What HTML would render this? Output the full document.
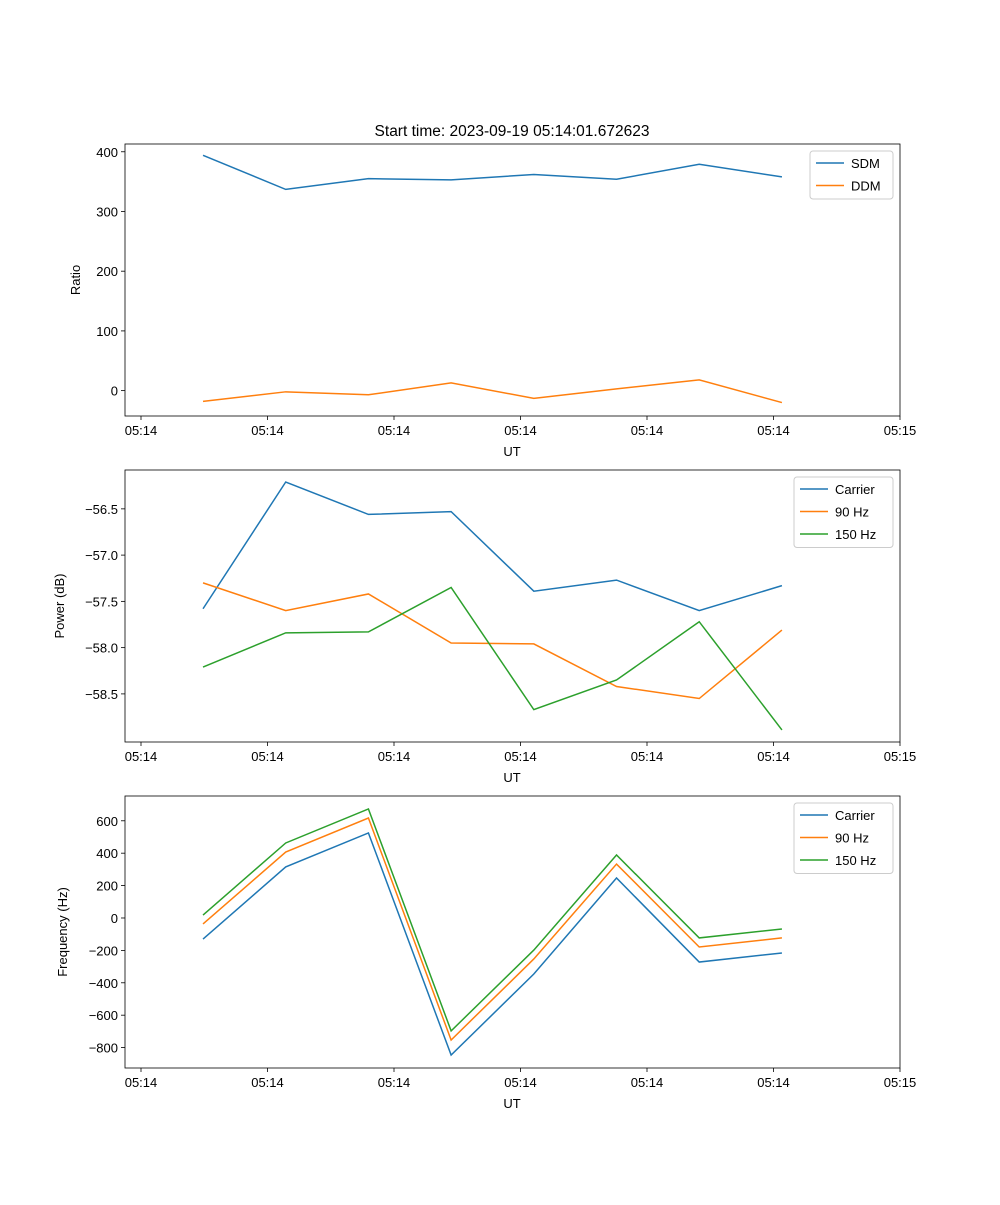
<!DOCTYPE html>
<html><head><meta charset="utf-8"><style>
body{margin:0;background:#fff}
svg text{font-family:"Liberation Sans","DejaVu Sans",sans-serif;font-size:13px;fill:#000}
</style></head><body>
<svg id="fig" width="1000" height="1200" xmlns="http://www.w3.org/2000/svg">
<rect width="1000" height="1200" fill="#fff"/>
<text x="512" y="136" text-anchor="middle" style="font-size:15.5px">Start time: 2023-09-19 05:14:01.672623</text>
</svg>
<script>
const xTickLabels=["05:14","05:14","05:14","05:14","05:14","05:14","05:15"];
const sdm=[394,337,355,353,362,354,379,358];
const ddm=[-18,-2,-7,13,-13,3,18,-20];
const pCarrier=[-57.58,-56.21,-56.56,-56.53,-57.39,-57.27,-57.6,-57.33];
const p90=[-57.3,-57.6,-57.42,-57.95,-57.96,-58.42,-58.55,-57.81];
const p150=[-58.21,-57.84,-57.83,-57.35,-58.67,-58.35,-57.72,-58.89];
const fCarrier=[-130,315,525,-846,-346,247,-272,-216];
const f90=[-37,407,617,-753,-253,333,-179,-123];
const f150=[18,463,673,-697,-198,389,-123,-68];
const ticks1=[0,100,200,300,400];
const ticks2=[-58.5,-58.0,-57.5,-57.0,-56.5];
const ticks3=[-800,-600,-400,-200,0,200,400,600];
const NS="http://www.w3.org/2000/svg";
const svg=document.getElementById('fig');
const L=125,R=900;
function xs(i){return 141+(i+0.75)*82.7;}
function el(t,a,p){const e=document.createElementNS(NS,t);for(const k in a)e.setAttribute(k,a[k]);(p||svg).appendChild(e);return e;}
function panel(name,top,ymin,ymax,ticks,fmt,ylabel,series,legend){
  const bot=top+272;
  const ys=v=>bot-(v-ymin)/(ymax-ymin)*272;
  const g=el('g',{});
  
  
  series.forEach(s=>{
    const pl=el('polyline',{points:s.d.map((v,i)=>xs(i)+','+ys(v)).join(' '),fill:'none',stroke:s.c,'stroke-width':1.5},g);
    
    
  });
  const fr=el('rect',{x:L,y:top,width:R-L,height:272,fill:'none',stroke:'#000','stroke-width':0.8},g);
  
  
  xTickLabels.forEach((t,k)=>{
    const x=141+k*126.5;
    el('line',{x1:x,x2:x,y1:bot,y2:bot+4,stroke:'#000','stroke-width':0.8},g);
    const tx=el('text',{x:x,y:bot+19,'text-anchor':'middle'},g);tx.textContent=t;
    
    
  });
  ticks.forEach(v=>{
    const y=ys(v);
    el('line',{x1:L-4,x2:L,y1:y,y2:y,stroke:'#000','stroke-width':0.8},g);
    const tx=el('text',{x:L-7,y:y+5,'text-anchor':'end'},g);tx.textContent=fmt(v);
    
    
  });
  const xl=el('text',{x:512,y:bot+40,'text-anchor':'middle'},g);xl.textContent='UT';
  
  
  const yl=el('text',{x:0,y:0,'text-anchor':'middle',transform:`translate(${legend.yx},${top+136}) rotate(-90)`},g);yl.textContent=ylabel;
  
  
  const lg=el('g',{},g);
  
  
  el('rect',{x:legend.x,y:top+7,width:R-7-legend.x,height:series.length*22.5+3,rx:3,fill:'#fff',stroke:'#ccc'},lg);
  series.forEach((s,i)=>{
    const y=top+19+i*22.5;
    el('line',{x1:legend.x+6,x2:legend.x+34,y1:y,y2:y,stroke:s.c,'stroke-width':1.5},lg);
    const t=el('text',{x:legend.x+41,y:y+5},lg);t.textContent=s.label;
    
    
  });
}
const minus=s=>s.replace('-','\u2212');
panel('ratio-panel',144,-42.5,413,ticks1,v=>minus(String(v)),'Ratio',
 [{d:sdm,c:'#1f77b4',n:'sdm-line',label:'SDM'},{d:ddm,c:'#ff7f0e',n:'ddm-line',label:'DDM'}],{x:810,yx:80});
panel('power-panel',470,-59.02,-56.08,ticks2,v=>minus(v.toFixed(1)),'Power (dB)',
 [{d:pCarrier,c:'#1f77b4',n:'power-carrier-line',label:'Carrier'},{d:p90,c:'#ff7f0e',n:'power-90hz-line',label:'90 Hz'},{d:p150,c:'#2ca02c',n:'power-150hz-line',label:'150 Hz'}],{x:794,yx:64});
panel('frequency-panel',796,-926,753,ticks3,v=>minus(String(v)),'Frequency (Hz)',
 [{d:fCarrier,c:'#1f77b4',n:'freq-carrier-line',label:'Carrier'},{d:f90,c:'#ff7f0e',n:'freq-90hz-line',label:'90 Hz'},{d:f150,c:'#2ca02c',n:'freq-150hz-line',label:'150 Hz'}],{x:794,yx:67});
</script>
</body></html>
